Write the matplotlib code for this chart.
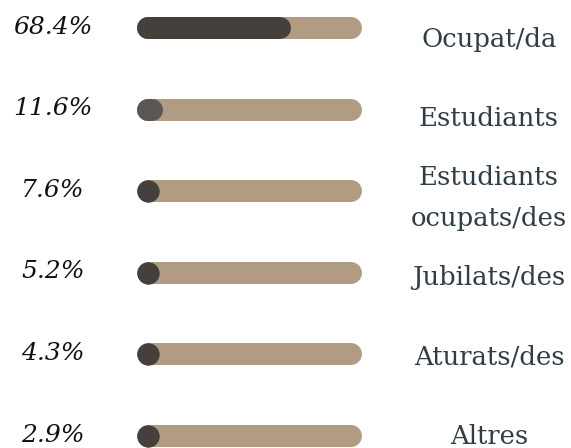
import matplotlib.pyplot as plt
from matplotlib.transforms import blended_transform_factory

# data
categories = ["Ocupat/da", "Estudiants", "Estudiants\nocupats/des",
              "Jubilats/des", "Aturats/des", "Altres"]
values = [68.4, 11.6, 7.6, 5.2, 4.3, 2.9]
pct_labels = ["68.4%", "11.6%", "7.6%", "5.2%", "4.3%", "2.9%"]

track_color = "#b19c83"
fill_colors = ["#45403b", "#5a5651", "#45403b", "#45403b", "#45403b", "#45403b"]

W, H, DPI = 571, 448, 100
fig = plt.figure(figsize=(W / DPI, H / DPI), dpi=DPI)

# axes placed so the track spans 137..362 px, rows 81.6 px apart
step = 81.6
top_c = 28
ax_left, ax_w = 137 / W, 225 / W
ax_top = H - (top_c - step / 2)
ax_bot = H - (top_c + 5 * step + step / 2)
ax = fig.add_axes([ax_left, ax_bot / H, ax_w, (ax_top - ax_bot) / H])
ax.set_xlim(0, 100)
ax.set_ylim(len(values) - 0.5, -0.5)
ax.axis("off")

bar_px = 22
lw = bar_px * 72 / DPI
r = (bar_px / 2) / 225 * 100  # cap radius in data units

for i, v in enumerate(values):
    ax.plot([r, 100 - r], [i, i], lw=lw, color=track_color,
            solid_capstyle="round", clip_on=False)
    end = max(v - r, r)
    # a zero-length line draws nothing, so tiny values get a round marker
    mk = "o" if end - r < 1 else None
    ax.plot([r, end], [i, i], lw=lw, color=fill_colors[i],
            solid_capstyle="round", marker=mk, markersize=lw,
            markeredgewidth=0, clip_on=False, zorder=3)

# labels on the right sit on a slightly tighter spacing than the bars
lab_step = 79.4 / step
lab_first = (47 - top_c) / step
line_gap = 40 / step

tr = blended_transform_factory(fig.transFigure, ax.transData)
for i, (p, c) in enumerate(zip(pct_labels, categories)):
    ax.text(53 / W, i - 0.01, p, transform=tr, ha="center", va="center",
            fontsize=18, style="italic", family="DejaVu Serif", color="#111111")
    nl = c.count("\n")
    # baseline alignment uses the last line of the label
    y = lab_first + i * lab_step + nl * line_gap / 2
    ax.text(489 / W, y, c, transform=tr, ha="center", va="baseline",
            fontsize=18.6, family="DejaVu Serif", color="#2f3e46",
            linespacing=1.8)

fig.savefig("out.png", dpi=DPI)
